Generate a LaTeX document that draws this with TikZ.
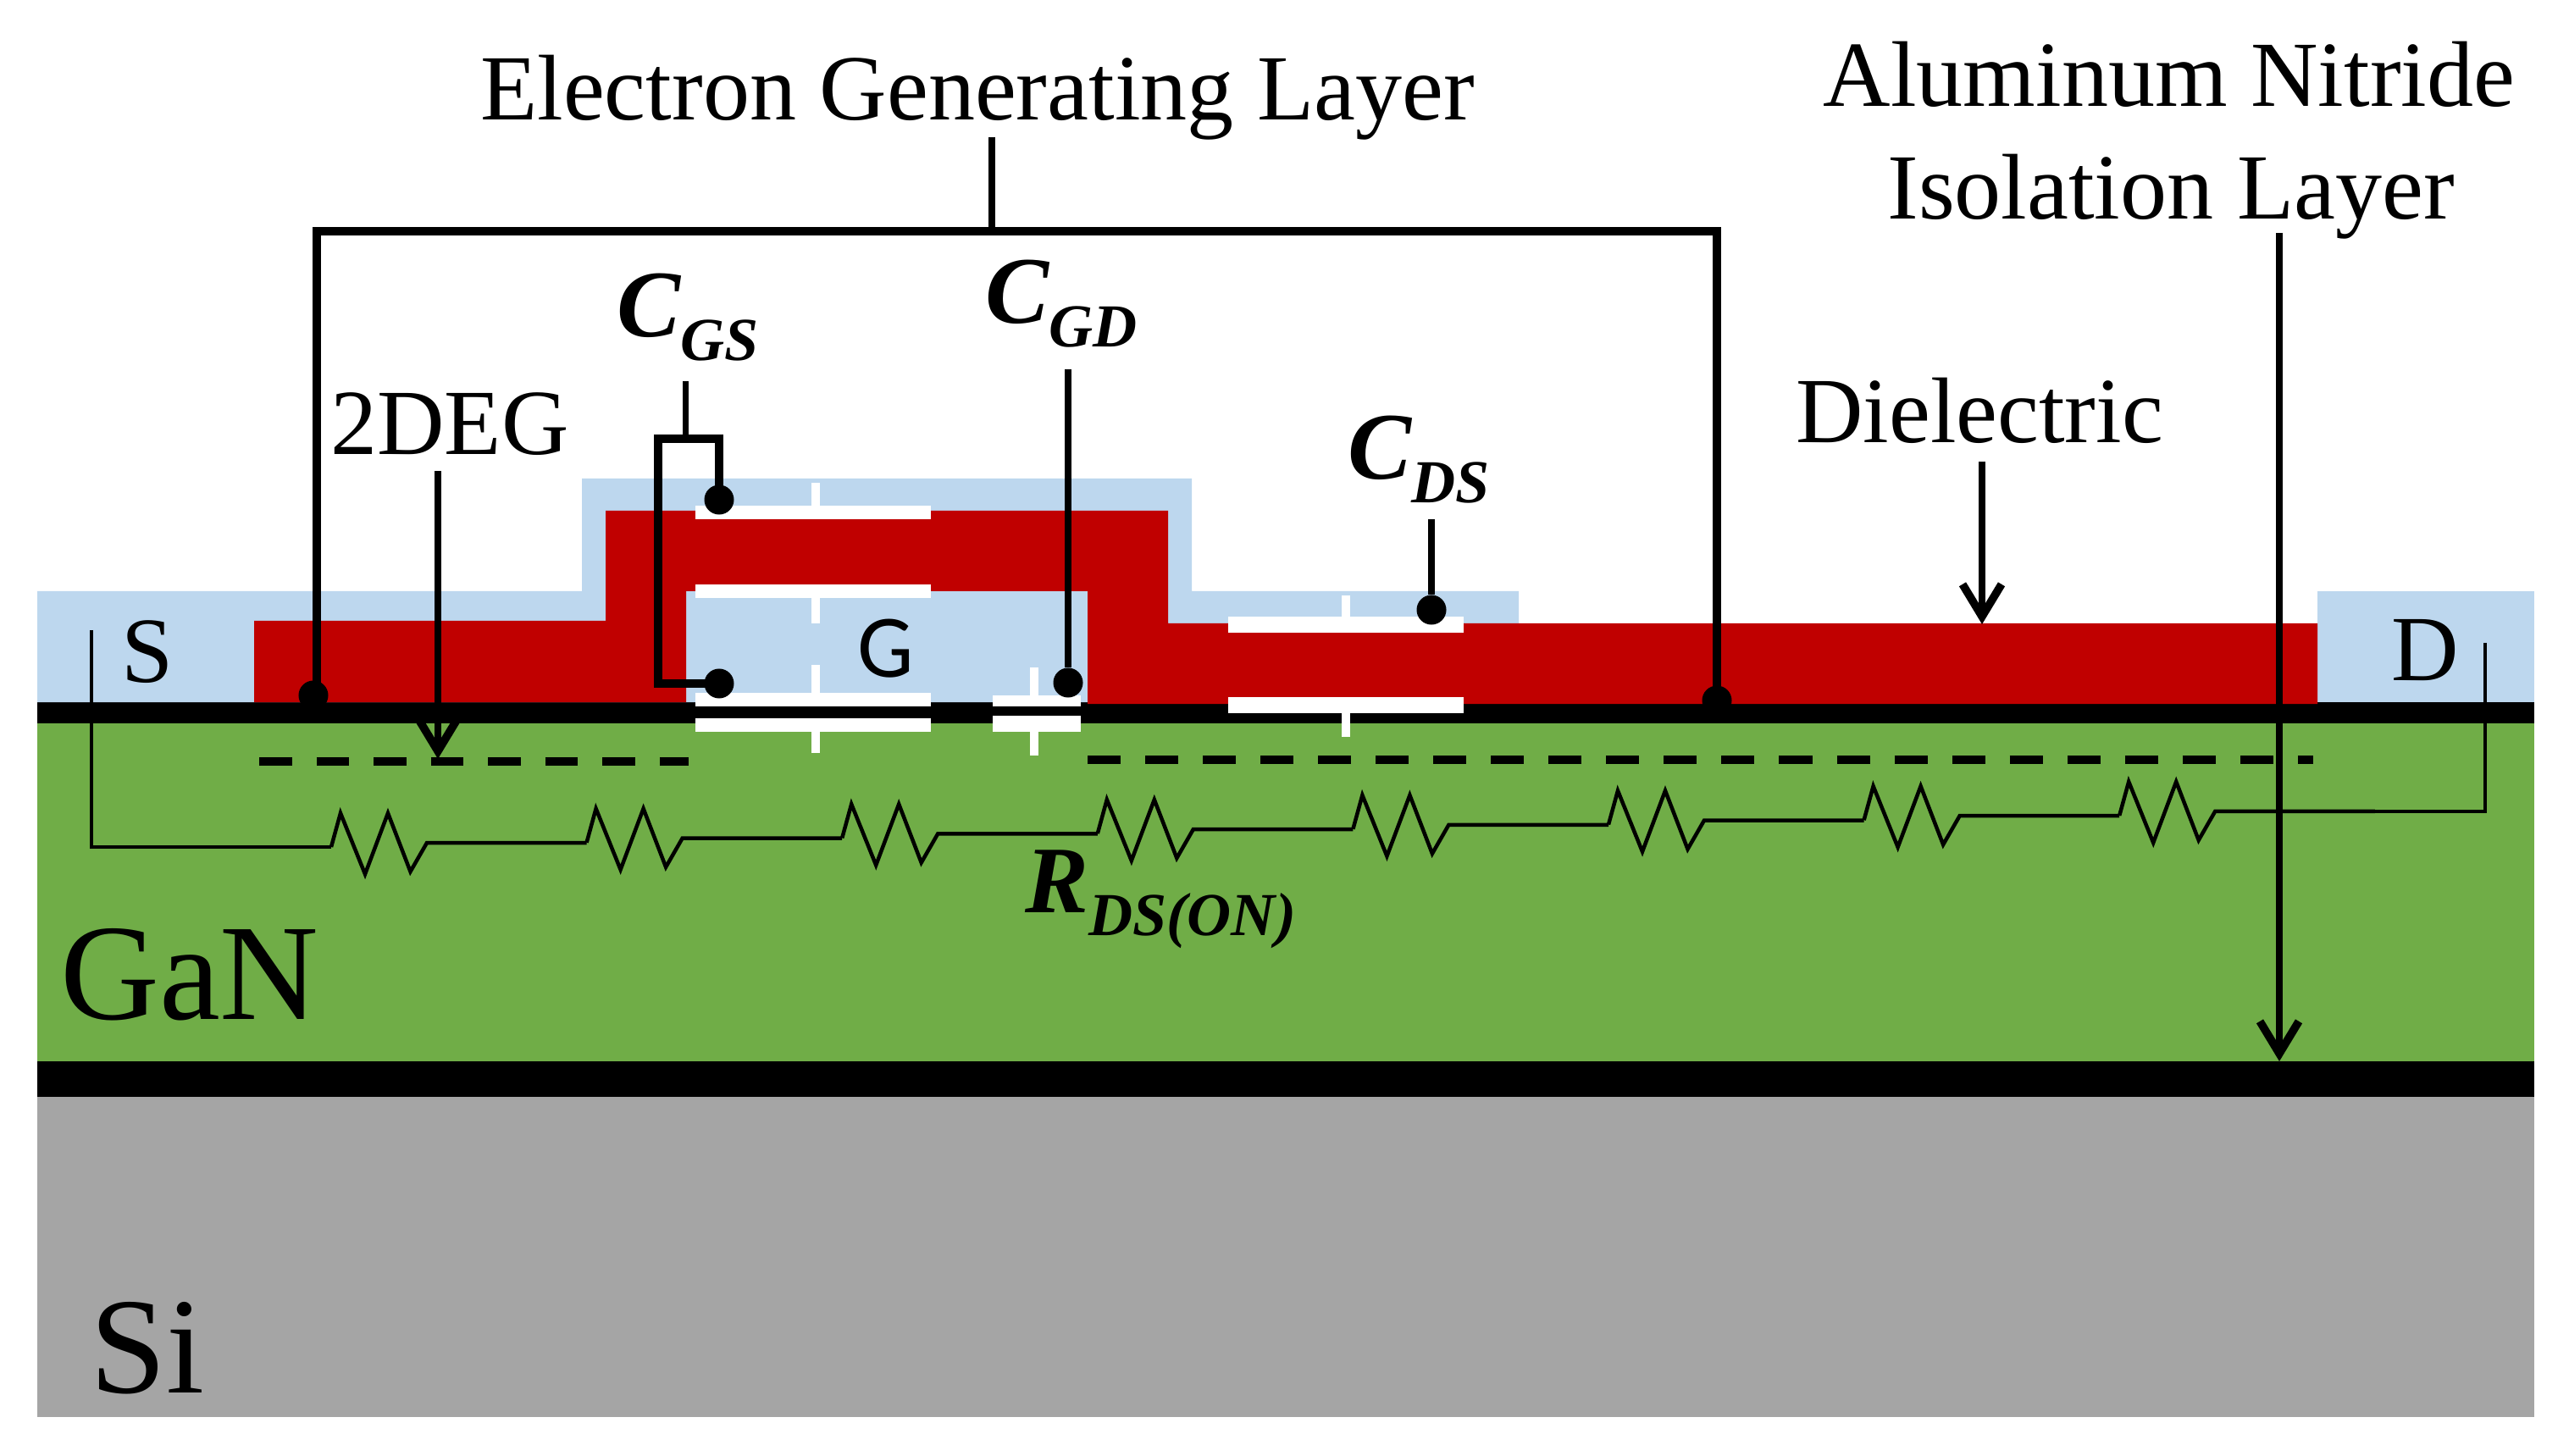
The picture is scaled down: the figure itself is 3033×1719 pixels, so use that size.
\documentclass[tikz,border=0pt]{standalone}
\usepackage{fontspec}
\setmainfont{Liberation Serif}
\newfontfamily\gatefont{Carlito}
\usetikzlibrary{arrows.meta}
\definecolor{dielblue}{HTML}{BDD7EE}
\definecolor{layerred}{HTML}{C00000}
\definecolor{ganGreen}{HTML}{70AD47}
\definecolor{siGray}{HTML}{A5A5A5}
\newcommand{\capsym}[2]{{\bfseries\itshape\fontsize{32}{32}\selectfont #1\raisebox{-.27cm}{\fontsize{20.5}{20.5}\selectfont #2}}}
\tikzset{label text/.style={inner sep=0pt,anchor=base,font=\fontsize{31.3}{37.7}\selectfont},
         sym text/.style={inner sep=0pt,anchor=base west},
         big text/.style={inner sep=0pt,anchor=base,font=\fontsize{46}{46}\selectfont},
         thick bar/.style={line width=.095cm},
         wire/.style={line width=.045cm,line join=miter},
         pointer/.style={line width=.08cm,-{Straight Barb[length=.38cm,width=.46cm,line width=.095cm]}},
         pin/.style={circle,fill=black,inner sep=0pt,minimum size=.35cm}}

\begin{document}
\begin{tikzpicture}[x=.01cm,y=-.01cm]
  \useasboundingbox (0,0) rectangle (3033,1719);

  % layers
  \fill[siGray]   (44,1295) rectangle (2992,1673);
  \fill[ganGreen] (44,853) rectangle (2992,1253);
  \fill[black]    (44,1253) rectangle (2992,1295);
  \fill[black]    (44,829) rectangle (2992,854);

  % dielectric and contacts
  \fill[dielblue] (44,829) |- (687,698) |- (1407,565) |- (1793,698) |- (1793,829) -- cycle;
  \fill[dielblue] (2736,698) rectangle (2992,829);
  \fill[layerred] (300,829) |- (715,733) |- (1379,603) |- (2736,736) |- (1284,831)
                  |- (810,698) |- (300,829) -- cycle;

  % capacitor symbols
  \foreach \xa/\xb/\xs/\ytop/\ya/\yb/\yc/\yd/\ybot in
      {821/1099/963/570/597/613/690/706/736,
       821/1099/963/785/818/834/848/864/889,
       1172/1276/1221/788/821/834/845/864/892,
       1450/1728/1589/703/728/747/823/842/870}{
    \fill[white] (\xa,\ya) rectangle (\xb,\yb);
    \fill[white] (\xa,\yc) rectangle (\xb,\yd);
    \fill[white] (\xs-5,\ytop) rectangle (\xs+5,\ya);
    \fill[white] (\xs-5,\yd) rectangle (\xs+5,\ybot);
  }

  % 2DEG
  \coordinate (degLa) at (306,899);
  \coordinate (degLb) at (813,899);
  \coordinate (degRa) at (1284,897);
  \coordinate (degRb) at (2731,897);
  \draw[line width=.107cm,dash pattern=on .385cm off .29cm] (degLa) -- (degLb);
  \draw[line width=.107cm,dash pattern=on .39cm off .29cm] (degRa) -- (degRb);

  % channel resistance
  \coordinate (srcTop) at (108,744);
  \coordinate (srcIn) at (391,1000);
  \coordinate (drnTop) at (2934,759);
  \draw[wire] (srcTop) |- (srcIn);
  \foreach \i [evaluate=\i as \xr using 391+301.6*\i,
               evaluate=\i as \yr using 1000-5.3*\i] in {0,...,7}
    \draw[wire] (\xr,\yr) -- ++(11,-40) -- ++(29,72) -- ++(27,-72) -- ++(26.5,69)
                -- ++(19.5,-34) coordinate (rout\i) -- ++(188.6,0);
  \draw[wire] (drnTop) |- (rout7);

  % pins
  \node[pin] (pinL)  at (370,821) {};
  \node[pin] (pinR)  at (2027,827) {};
  \node[pin] (pinGa) at (849,590) {};
  \node[pin] (pinGb) at (849,807) {};
  \node[pin] (pinGD) at (1261,806) {};
  \node[pin] (pinDS) at (1690,720) {};

  % leaders
  \coordinate (brkLeft) at (374,821);
  \coordinate (brkTop) at (1171,273);
  \coordinate (brkStub) at (1171,162);
  \coordinate (gsTop) at (809,450);
  \coordinate (gsBar) at (809,518);
  \coordinate (gdTop) at (1261,436);
  \coordinate (dsTop) at (1690,613);
  \draw[thick bar] (brkLeft) |- (brkTop) -| (pinR.center);
  \draw[line width=.08cm] (brkStub) -- (brkTop);
  \draw[line width=.07cm] (gsTop) -- (gsBar);
  \draw[thick bar] (pinGb.center) -| (777,518) -| (pinGa.center);
  \draw[line width=.08cm] (gdTop) -- (pinGD);
  \draw[line width=.08cm] (dsTop) -- (pinDS);

  \coordinate (degTop) at (517,556);
  \coordinate (degTip) at (517,896);
  \coordinate (dielTop) at (2340,545);
  \coordinate (dielTip) at (2340,737);
  \coordinate (alnTop) at (2691,275);
  \coordinate (alnTip) at (2691,1253);
  \draw[pointer] (degTop) -- (degTip);
  \draw[pointer] (dielTop) -- (dielTip);
  \draw[pointer] (alnTop) -- (alnTip);

  % labels
  \node[label text] (egl) at (1154,142) {Electron Generating Layer};
  \node[label text] (aln) at (2561,126) {Aluminum Nitride};
  \node[label text] (iso) at (2563,259) {Isolation Layer};
  \node[label text] (deg) at (531,537) {2DEG};
  \node[label text] (diel) at (2337,523) {Dielectric};
  \node[label text] (src) at (174,806) {S};
  \node[label text] (drn) at (2863,804) {D};
  \node[label text,font=\gatefont\fontsize{30}{30}\selectfont] (gat) at (1046,800) {G};
  \node[big text] (gan) at (224,1203) {GaN};
  \node[big text] (si) at (174,1644) {Si};
  \node[sym text] (cgs) at (728,398) {\capsym{C}{GS}};
  \node[sym text] (cgd) at (1163,382) {\capsym{C}{GD}};
  \node[sym text] (cds) at (1591,566) {\capsym{C}{DS}};
  \node[sym text] (rds) at (1210,1077) {\capsym{R}{DS(ON)}};
\end{tikzpicture}
\end{document}
